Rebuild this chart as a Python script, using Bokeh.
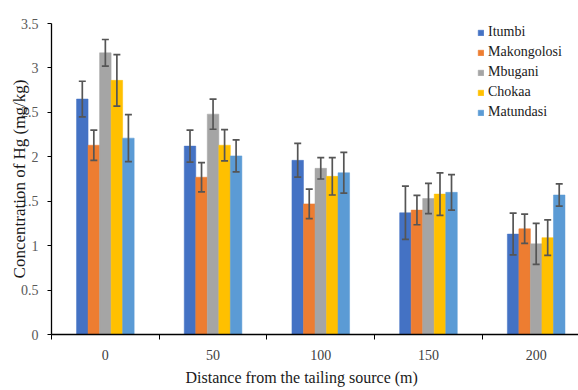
from bokeh.plotting import figure
from bokeh.models import (Range1d, FixedTicker, NumeralTickFormatter, Whisker, TeeHead,
                          ColumnDataSource, Legend, LegendItem, Title)
from bokeh.embed import file_html
from bokeh.resources import INLINE

# Distance groups (m) and sampling sites
distances = ["0", "50", "100", "150", "200"]
sites = ["Itumbi", "Makongolosi", "Mbugani", "Chokaa", "Matundasi"]
colors = ["#4472C4", "#ED7D31", "#A5A5A5", "#FFC000", "#5B9BD5"]

# Mean Hg concentration (mg/kg) per site at each distance
itumbi = [2.65, 2.12, 1.96, 1.37, 1.13]
makongolosi = [2.13, 1.77, 1.47, 1.40, 1.19]
mbugani = [3.17, 2.48, 1.87, 1.53, 1.02]
chokaa = [2.86, 2.13, 1.78, 1.58, 1.09]
matundasi = [2.21, 2.01, 1.82, 1.60, 1.57]

# Error (± mg/kg)
itumbi_err = [0.20, 0.18, 0.19, 0.30, 0.235]
makongolosi_err = [0.17, 0.165, 0.165, 0.165, 0.165]
mbugani_err = [0.15, 0.17, 0.12, 0.17, 0.23]
chokaa_err = [0.29, 0.175, 0.21, 0.24, 0.20]
matundasi_err = [0.265, 0.18, 0.23, 0.20, 0.125]

y_ticks = [0, 0.5, 1, 1.5, 2, 2.5, 3, 3.5]

means = [itumbi, makongolosi, mbugani, chokaa, matundasi]
errs = [itumbi_err, makongolosi_err, mbugani_err, chokaa_err, matundasi_err]

FONT = "Liberation Serif"
BAR_W = 0.107

p = figure(width=578, height=390, output_backend="svg", toolbar_location=None,
           x_range=Range1d(0, 4.893), y_range=Range1d(0, 3.5),
           min_border_left=51, min_border_right=0, min_border_top=23, min_border_bottom=56)
p.outline_line_color = None
p.xgrid.visible = False
p.ygrid.visible = False
p.background_fill_color = "white"
p.border_fill_color = "white"

centers = [i + 0.5 for i in range(len(distances))]
items = []
for j, (site, col, m, e) in enumerate(zip(sites, colors, means, errs)):
    xs = [c + (j - 2) * BAR_W for c in centers]
    src = ColumnDataSource(dict(x=xs, top=m,
                                upper=[a + b for a, b in zip(m, e)],
                                lower=[a - b for a, b in zip(m, e)]))
    r = p.vbar(x="x", top="top", width=BAR_W, source=src, fill_color=col,
               line_color=col, line_width=0.5)
    items.append(LegendItem(label=site, renderers=[r]))
    w = Whisker(base="x", upper="upper", lower="lower", source=src, level="annotation",
                line_color="#555555", line_width=1.7,
                upper_head=TeeHead(size=7, line_color="#555555", line_width=1.7),
                lower_head=TeeHead(size=7, line_color="#555555", line_width=1.7))
    p.add_layout(w)

# x axis: labels at group centres, tick marks between groups
xa = p.xaxis[0]
xa.ticker = FixedTicker(ticks=centers, minor_ticks=[0, 1, 2, 3, 4])
xa.major_label_overrides = {c: d for c, d in zip(centers, distances)}
xa.major_tick_line_color = None
xa.major_tick_out = 0
xa.major_tick_in = 0
xa.minor_tick_line_color = "black"
xa.minor_tick_out = 5
xa.minor_tick_in = 0
xa.axis_line_color = "black"
xa.axis_line_width = 1.3
xa.major_label_text_font = FONT
xa.major_label_text_font_size = "14px"
xa.major_label_text_color = "#404040"
xa.major_label_standoff = 10

ya = p.yaxis[0]
ya.ticker = FixedTicker(ticks=y_ticks)
ya.formatter = NumeralTickFormatter(format="0.[0]")
ya.major_tick_out = 4
ya.major_tick_in = 0
ya.minor_tick_line_color = None
ya.major_tick_line_color = "black"
ya.axis_line_color = "black"
ya.axis_line_width = 1.3
ya.major_label_text_font = FONT
ya.major_label_text_font_size = "14px"
ya.major_label_text_color = "#595959"
ya.major_label_standoff = 9
ya.axis_label = "Concentration of Hg (mg/kg)"
ya.axis_label_text_font = FONT
ya.axis_label_text_font_size = "17px"
ya.axis_label_text_font_style = "normal"
ya.axis_label_text_color = "#1a1a1a"
ya.axis_label_standoff = -11

# x axis title, set a little left of the frame centre
p.add_layout(Title(text="Distance from the tailing source (m)", align="left", offset=134,
                   vertical_align="bottom", text_font=FONT, text_font_size="16px",
                   text_font_style="normal", text_color="#1a1a1a", standoff=9), "below")

legend = Legend(items=items, location=(426, 214), orientation="vertical",
                border_line_alpha=0, background_fill_alpha=0, padding=0, margin=0,
                spacing=4, label_height=14, glyph_height=7, glyph_width=7,
                label_standoff=4, label_text_font=FONT, label_text_font_size="14px",
                label_text_color="#1a1a1a")
p.add_layout(legend)

open("out.html", "w").write(file_html(p, INLINE))
